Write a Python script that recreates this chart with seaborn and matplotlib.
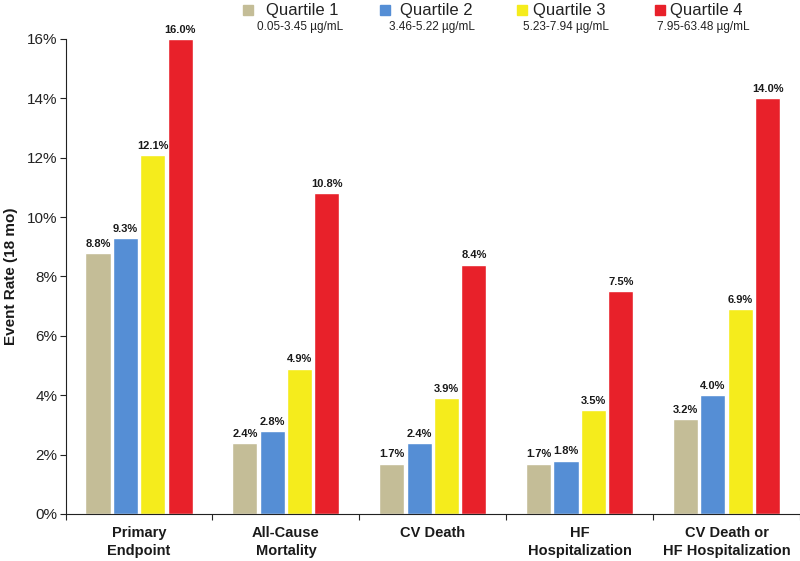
import matplotlib
matplotlib.use("Agg")
import matplotlib.pyplot as plt
from matplotlib.patches import Rectangle
from matplotlib.ticker import FixedLocator, FuncFormatter
import pandas as pd
import seaborn as sns

# data
categories = ["Primary\nEndpoint", "All-Cause\nMortality", "CV Death",
              "HF\nHospitalization", "CV Death or\nHF Hospitalization"]
quartiles = ["Quartile 1", "Quartile 2", "Quartile 3", "Quartile 4"]
ranges = ["0.05-3.45 \u00b5g/mL", "3.46-5.22 \u00b5g/mL",
          "5.23-7.94 \u00b5g/mL", "7.95-63.48 \u00b5g/mL"]
q1 = [8.8, 2.4, 1.7, 1.7, 3.2]
q2 = [9.3, 2.8, 2.4, 1.8, 4.0]
q3 = [12.1, 4.9, 3.9, 3.5, 6.9]
q4 = [16.0, 10.8, 8.4, 7.5, 14.0]
colors = ["#C4BD97", "#558ED5", "#F5EC1C", "#E8212A"]

sns.set_theme(style="white")
plt.rcParams["font.family"] = ["Liberation Sans", "DejaVu Sans"]

rows = []
for q, vals in zip(quartiles, [q1, q2, q3, q4]):
    for c, v in zip(categories, vals):
        rows.append({"category": c, "quartile": q, "rate": v})
df = pd.DataFrame(rows)

fig = plt.figure(figsize=(8, 5.61), dpi=100)
ax = fig.add_axes([0.082, 0.0838, 0.918, 0.8467])

sns.barplot(data=df, x="category", y="rate", hue="quartile", order=categories,
            hue_order=quartiles, palette=colors, saturation=1, width=0.745,
            gap=0.085, ax=ax, legend=False)

for cont in ax.containers:
    ax.bar_label(cont, fmt="%.1f%%", padding=3, fontsize=8,
                 fontweight="bold", color="#1a1a1a")

ax.set_ylim(0, 16)
ax.set_xlim(-0.5, 4.5)
ax.set_yticks(range(0, 17, 2))
ax.yaxis.set_major_formatter(FuncFormatter(lambda v, p: "%d%%" % v))
ax.tick_params(axis="y", direction="out", length=4, width=0.8, labelsize=11,
               left=True, pad=2, colors="#222222")
ax.xaxis.set_minor_locator(FixedLocator([i - 0.5 for i in range(6)]))
ax.tick_params(axis="x", which="major", length=0, pad=9)
ax.tick_params(axis="x", which="minor", direction="out", length=4, width=0.8,
               bottom=True)
ax.set_xticklabels(categories, fontsize=10.5, fontweight="bold",
                   linespacing=1.3, color="#1a1a1a")
ax.set_xlabel("")
ax.set_ylabel("Event Rate (18 mo)", fontsize=11, fontweight="bold",
              labelpad=6, color="#1a1a1a")

for side in ["top", "right"]:
    ax.spines[side].set_visible(False)
for side in ["left", "bottom"]:
    ax.spines[side].set_color("#222222")
    ax.spines[side].set_linewidth(0.8)

# custom legend with dose ranges underneath
sq_x = [243, 380, 517, 655]
txt_x = [266, 400, 533, 670]
sub_x = [257, 389, 523, 657]
W, H = 800, 561
for i in range(4):
    fig.patches.append(Rectangle((sq_x[i] / W, 1 - 15 / H), 10 / W, 10 / H,
                                 transform=fig.transFigure, color=colors[i]))
    fig.text(txt_x[i] / W, 1 - 10 / H, quartiles[i], fontsize=12,
             va="center", ha="left", color="#222222")
    fig.text(sub_x[i] / W, 1 - 27 / H, ranges[i], fontsize=8.5,
             va="center", ha="left", color="#222222")

fig.savefig("out.png", dpi=100, facecolor="white")
